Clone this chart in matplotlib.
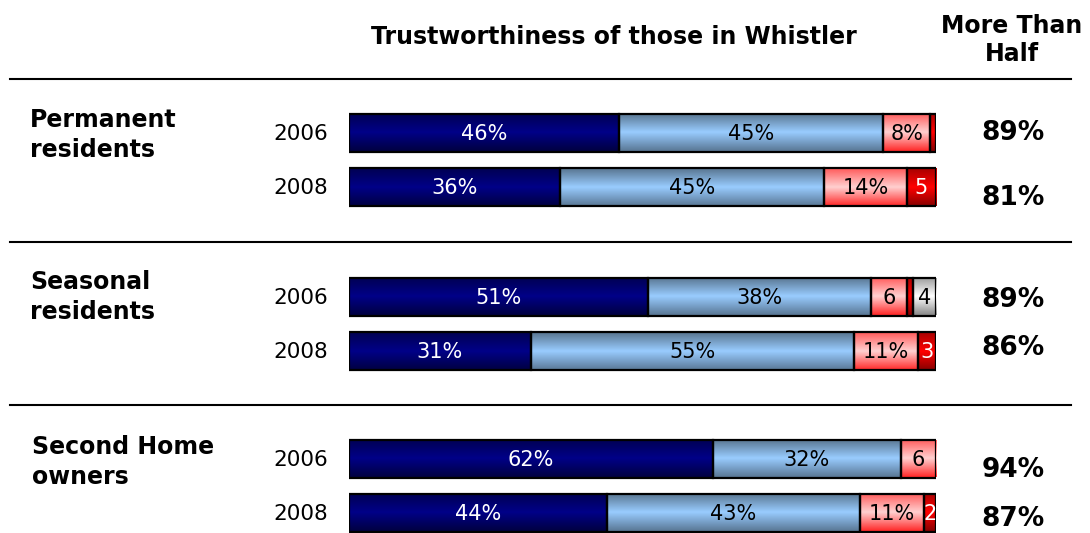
import numpy as np
import matplotlib
matplotlib.use("Agg")
import matplotlib.pyplot as plt
from matplotlib import font_manager
from matplotlib.colors import to_rgb

# ---- data -------------------------------------------------------------
groups = ["Permanent\nresidents", "Seasonal\nresidents", "Second Home\nowners"]
years = ["2006", "2008"]

# shares per response band: very high, high, low, very low, don't know
permanent = [[46, 45, 8, 1, 0], [36, 45, 14, 5, 0]]
seasonal = [[51, 38, 6, 1, 4], [31, 55, 11, 3, 0]]
second_home = [[62, 32, 6, 0, 0], [44, 43, 11, 2, 0]]

more_than_half = [["89%", "81%"], ["89%", "86%"], ["94%", "87%"]]

title = "Trustworthiness of those in Whistler"
side_title = "More Than\nHalf"

# ---- styling ----------------------------------------------------------
W, H = 1090, 533
# (top, middle, bottom) shades of each band's vertical gradient
band_shades = [
    ("#000052", "#000088", "#000042"),
    ("#587590", "#99ccff", "#5a7896"),
    ("#ff5a5a", "#ffd0d0", "#ff2a2a"),
    ("#a80000", "#ff0000", "#880000"),
    ("#9a9a9a", "#ffffff", "#8a8a8a"),
]
text_colors = ["white", "black", "black", "white", "black"]

available = {f.name for f in font_manager.fontManager.ttflist}
narrow = "Liberation Sans Narrow" if "Liberation Sans Narrow" in available else "DejaVu Sans"

fig = plt.figure(figsize=(W / 100, H / 100), dpi=100)
fig.patch.set_facecolor("white")

# bar area: x in percent, y in pixel rows measured from the top
ax = fig.add_axes([349 / W, 0, (936 - 349) / W, 1])
ax.set_xlim(0, 100)
ax.set_ylim(H, 0)
ax.axis("off")

row_centres = [[132.5, 187.0], [296.5, 351.0], [458.5, 512.5]]
bar_h = 38
all_data = [permanent, seasonal, second_home]


def gradient(shades, n=64):
    top, mid, bot = (np.array(to_rgb(c)) for c in shades)
    t = np.linspace(0, 1, n)[:, None]
    split = 0.5
    up = top + (mid - top) * np.clip(t / split, 0, 1)
    down = mid + (bot - mid) * np.clip((t - split) / (1 - split), 0, 1)
    col = np.where(t <= split, up, down)
    return col[:, None, :]


def seg_label(v):
    if v >= 8:
        return f"{v}%"
    if v >= 2:
        return f"{v}"
    return ""


for g, rows in enumerate(all_data):
    for r, vals in enumerate(rows):
        y = row_centres[g][r]
        left = 0
        for b, v in enumerate(vals):
            if v <= 0:
                continue
            bar = ax.barh(y, v, left=left, height=bar_h,
                          color=band_shades[b][1], zorder=1)[0]
            img = ax.imshow(gradient(band_shades[b]), aspect="auto",
                            extent=(left, left + v, y + bar_h / 2, y - bar_h / 2),
                            interpolation="bilinear", zorder=2)
            img.set_clip_path(bar)
            ax.barh(y, v, left=left, height=bar_h, facecolor="none",
                    edgecolor="black", linewidth=1.6, zorder=3)
            lab = seg_label(v)
            if lab:
                ax.text(left + v / 2, y + 1, lab, ha="center", va="center",
                        color=text_colors[b], fontsize=15, family=narrow,
                        zorder=4)
            left += v
ax.set_xlim(0, 100)
ax.set_ylim(H, 0)


def fx(px):
    return px / W


def fy(py):
    return 1 - py / H


# headers
fig.text(fx(614), fy(37), title, ha="center", va="center",
         fontsize=17, fontweight="bold")
fig.text(fx(1012), fy(40), side_title, ha="center", va="center",
         fontsize=17, fontweight="bold", linespacing=1.2)

# separators
for ly in [79, 242, 405]:
    fig.add_artist(plt.Line2D([fx(10), fx(1071)], [fy(ly), fy(ly)],
                              color="black", linewidth=1.5))

# group and year labels, right column values
group_centres = [135, 297, 462]
group_x = [30, 30, 32]
more_y = [[133, 198], [300, 348], [470, 519]]
for g, name in enumerate(groups):
    fig.text(fx(group_x[g]), fy(group_centres[g]), name, ha="left",
             va="center", fontsize=17, fontweight="bold", linespacing=1.3)
    for r, yr in enumerate(years):
        fig.text(fx(328), fy(row_centres[g][r] + 1), yr, ha="right",
                 va="center", fontsize=15.5)
        fig.text(fx(1013), fy(more_y[g][r]), more_than_half[g][r],
                 ha="center", va="center", fontsize=19, fontweight="bold")

fig.savefig("out.png", dpi=100, facecolor="white")
